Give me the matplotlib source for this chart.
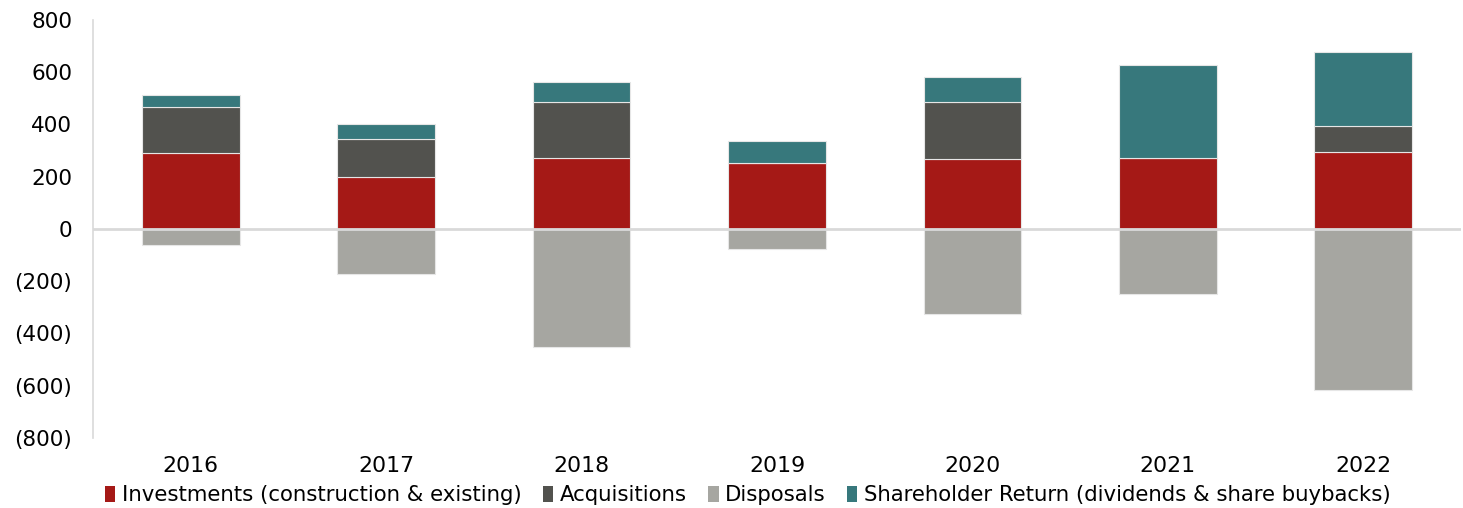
import matplotlib.pyplot as plt
import numpy as np
from matplotlib.ticker import FuncFormatter
from matplotlib.patches import Patch

years = ["2016", "2017", "2018", "2019", "2020", "2021", "2022"]
investments = [291, 197, 270, 251, 267, 272, 293]
acquisitions = [175, 145, 217, 0, 220, 0, 100]
disposals = [-61, -173, -454, -78, -327, -249, -618]
shareholder_return = [48, 61, 74, 87, 93, 356, 283]

labels = [
    "Investments (construction & existing)",
    "Acquisitions",
    "Disposals",
    "Shareholder Return (dividends & share buybacks)",
]
colors = ["#A51916", "#52524E", "#A6A6A1", "#37787C"]

plt.rcParams["font.family"] = ["DejaVu Sans"]

fig = plt.figure(figsize=(14.63, 5.08), dpi=100)
ax = fig.add_axes([0.0636, 0.138, 0.935, 0.823])

x = np.arange(len(years))
w = 0.5
inv = np.array(investments)
acq = np.array(acquisitions)
edge = dict(edgecolor="#e6e6e6", linewidth=0.8)
ax.bar(x, inv, w, color=colors[0], **edge)
ax.bar(x, acq, w, bottom=inv, color=colors[1], **edge)
ax.bar(x, disposals, w, color=colors[2], **edge)
ax.bar(x, shareholder_return, w, bottom=inv + acq, color=colors[3], **edge)

ax.axhline(0, color="#d9d9d9", linewidth=2, zorder=3)
ax.set_xlim(-0.5, len(years) - 0.5)
ax.set_ylim(-800, 800)
ax.set_yticks(range(-800, 801, 200))
ax.yaxis.set_major_formatter(
    FuncFormatter(lambda v, p: f"({abs(int(v))})" if v < 0 else f"{int(v)}")
)
ax.set_xticks(x)
ax.set_xticklabels(years)
ax.tick_params(axis="x", length=0, pad=13, labelsize=15.8)
ax.tick_params(axis="y", length=0, pad=15, labelsize=15.5)

for s in ["top", "right", "bottom"]:
    ax.spines[s].set_visible(False)
ax.spines["left"].set_color("#d9d9d9")
ax.spines["left"].set_linewidth(1.2)

handles = [Patch(facecolor=c, edgecolor="none") for c in colors]
fig.legend(
    handles,
    labels,
    loc="center",
    bbox_to_anchor=(0.511, 0.025),
    ncol=4,
    frameon=False,
    fontsize=15.3,
    handlelength=0.5,
    handleheight=0.75,
    handletextpad=0.3,
    columnspacing=1.0,
)

fig.savefig("out.png", dpi=100)
